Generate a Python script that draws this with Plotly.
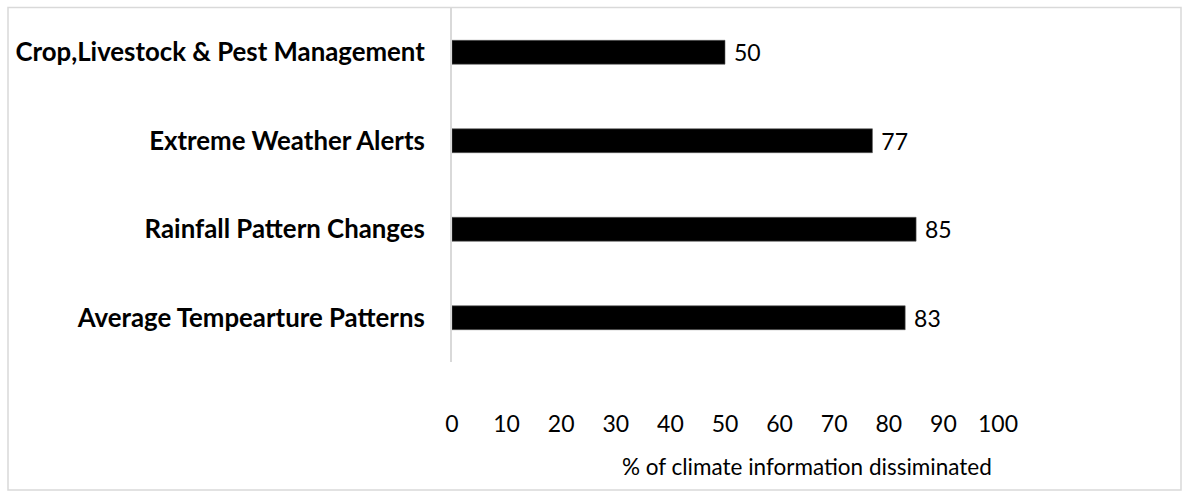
import plotly.graph_objects as go

# Share of farmers reached, by type of climate information
categories = [
    "Average Tempearture Patterns",
    "Rainfall Pattern Changes",
    "Extreme Weather Alerts",
    "Crop,Livestock & Pest Management",
]
percent = [83, 85, 77, 50]
x_ticks = [0, 10, 20, 30, 40, 50, 60, 70, 80, 90, 100]

W, H = 1189, 497
L, R, T, B = 452, 191, 8, 135
plot_w = W - L - R
plot_h = H - T - B


def px_to_paper_x(px):
    return (px - L) / plot_w


def px_to_paper_y(py):
    return (H - B - py) / plot_h


fig = go.Figure(
    go.Bar(
        x=percent,
        y=categories,
        orientation="h",
        width=0.27,
        marker=dict(color="#000000", line=dict(color="#5a5a5a", width=0.6)),
        text=percent,
        texttemplate=" %{text}",
        textposition="outside",
        constraintext="none",
        textfont=dict(family="Lato", size=23, color="#000000"),
        cliponaxis=False,
        hoverinfo="skip",
    )
)

fig.update_layout(
    width=W,
    height=H,
    margin=dict(l=L, r=R, t=T, b=B, pad=0),
    paper_bgcolor="white",
    plot_bgcolor="white",
    showlegend=False,
    xaxis=dict(
        range=[0, 100],
        tickvals=x_ticks,
        ticktext=[str(v) for v in x_ticks],
        showgrid=False,
        zeroline=False,
        showline=False,
        ticks="",
        ticklabelstandoff=46,
        tickfont=dict(family="Lato", size=23, color="#000000"),
        automargin=False,
        fixedrange=True,
    ),
    yaxis=dict(
        categoryorder="array",
        categoryarray=categories,
        range=[-0.5, 3.5],
        showgrid=False,
        zeroline=False,
        showline=True,
        linecolor="#d9d9d9",
        linewidth=2,
        ticks="",
        ticklabelstandoff=20,
        tickfont=dict(family="Lato", size=25.8, color="#000000", weight="bold"),
        automargin=False,
        fixedrange=True,
    ),
    annotations=[
        dict(
            text="% of climate information dissiminated",
            xref="paper",
            yref="paper",
            x=px_to_paper_x(807),
            y=px_to_paper_y(466),
            xanchor="center",
            yanchor="middle",
            showarrow=False,
            font=dict(family="Lato", size=22.5, color="#000000"),
        )
    ],
    shapes=[
        dict(
            type="rect",
            xref="paper",
            yref="paper",
            x0=px_to_paper_x(8),
            x1=px_to_paper_x(1181),
            y0=px_to_paper_y(490),
            y1=px_to_paper_y(7.5),
            line=dict(color="#d9d9d9", width=1.5),
            fillcolor="rgba(0,0,0,0)",
            layer="below",
        )
    ],
)

fig.write_html("out.html", config={"displayModeBar": False})
